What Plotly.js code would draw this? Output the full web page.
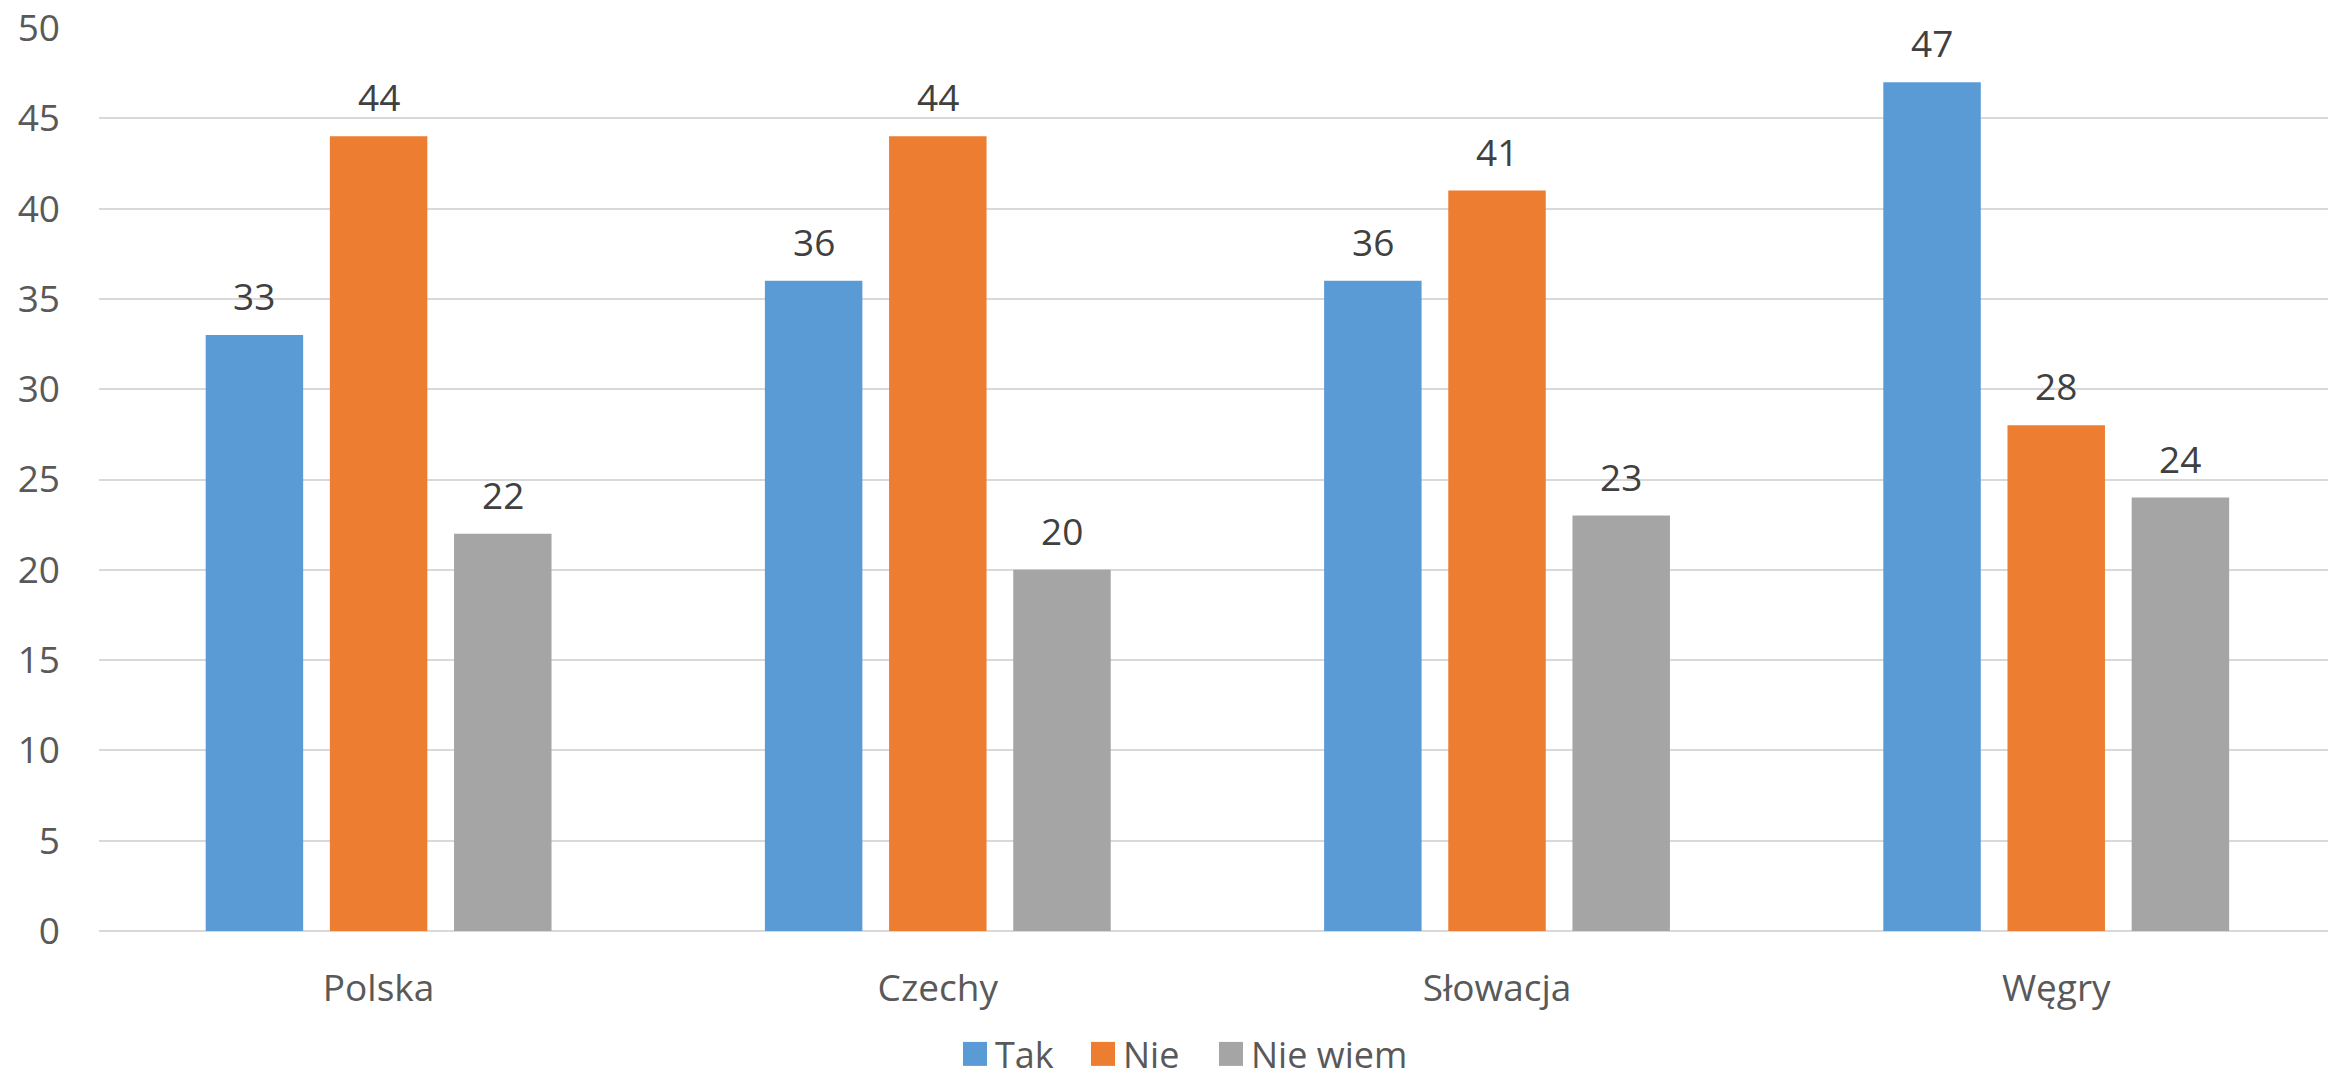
<!DOCTYPE html>
<html>
<head>
<meta charset="utf-8">
<script src="https://cdn.plot.ly/plotly-3.0.1.min.js"></script>
<style>
html, body { margin: 0; padding: 0; background: #ffffff; }
#chart { width: 2328px; height: 1078px; }
</style>
</head>
<body>
<div id="chart"></div>
<script>
const categories = ["Polska", "Czechy", "Słowacja", "Węgry"];
const seriesNames = ["Tak", "Nie", "Nie wiem"];
const takValues = [33, 36, 36, 47];
const nieValues = [44, 44, 41, 28];
const nieWiemValues = [22, 20, 23, 24];
const yTickValues = [0, 5, 10, 15, 20, 25, 30, 35, 40, 45, 50];

const colors = ["#5B9BD5", "#ED7D31", "#A5A5A5"];
const legendWidths = [83, 83, 170];
const seriesValues = [takValues, nieValues, nieWiemValues];
const FONT = "Open Sans, Liberation Sans, sans-serif";

const traces = seriesValues.map((vals, i) => ({
  type: "bar",
  name: seriesNames[i],
  x: categories,
  y: vals,
  legendwidth: legendWidths[i],
  marker: { color: colors[i], line: { width: 0 } },
  hoverinfo: "x+y+name"
}));

const plotLeft = 98.5, plotRight = 2328;
const xRange = [-0.5, 3.486];
const pxPerUnit = (plotRight - plotLeft) / (xRange[1] - xRange[0]);
const bargap = 0.3338;
const slotPx = (1 - bargap) / 3 * pxPerUnit;

const annotations = [];
seriesValues.forEach((vals, i) => {
  vals.forEach((v, j) => {
    annotations.push({
      x: categories[j], y: v, xref: "x", yref: "y",
      text: String(v), showarrow: false,
      xanchor: "center", yanchor: "bottom",
      xshift: (i - 1) * slotPx, yshift: 12,
      font: { family: FONT, size: 37, color: "#404040" }
    });
  });
});

const layout = {
  width: 2328, height: 1078,
  paper_bgcolor: "#ffffff", plot_bgcolor: "#ffffff",
  margin: { l: plotLeft, r: 0, t: 27.5, b: 147, pad: 0 },
  barmode: "group",
  bargap: bargap,
  bargroupgap: 0.215,
  font: { family: FONT, size: 37, color: "#595959" },
  xaxis: {
    type: "category",
    range: xRange,
    showgrid: false, zeroline: false, showline: false,
    ticks: "", ticklabelstandoff: 32,
    tickfont: { family: FONT, size: 37, color: "#595959" }
  },
  yaxis: {
    range: [0, 50],
    tickvals: yTickValues,
    showgrid: true, gridcolor: "#D9D9D9", gridwidth: 2,
    zeroline: true, zerolinecolor: "#D9D9D9", zerolinewidth: 2,
    showline: false, ticks: "", ticklabelstandoff: 38,
    tickfont: { family: FONT, size: 37, color: "#595959" }
  },
  showlegend: true,
  legend: {
    orientation: "h",
    xref: "container", yref: "container",
    x: 955 / 2328, xanchor: "left",
    y: 0, yanchor: "bottom",
    font: { family: FONT, size: 36, color: "#595959" },
    itemclick: false, itemdoubleclick: false,
    traceorder: "normal"
  },
  annotations: annotations
};

Plotly.newPlot("chart", traces, layout, { displayModeBar: false, staticPlot: true }).then(function (gd) {
  // enlarge the legend swatches to match the reference's larger squares
  gd.querySelectorAll(".legend .legendpoints path").forEach(function (p) {
    const t = p.getAttribute("transform") || "";
    p.setAttribute("transform", t + " scale(2)");
  });
  // nudge the legend down a little, keeping its text inside the page
  const lg = gd.querySelector(".legend");
  if (lg) {
    const t = lg.getAttribute("transform") || "";
    lg.setAttribute("transform", t + " translate(0,6)");
  }
});
</script>
</body>
</html>
